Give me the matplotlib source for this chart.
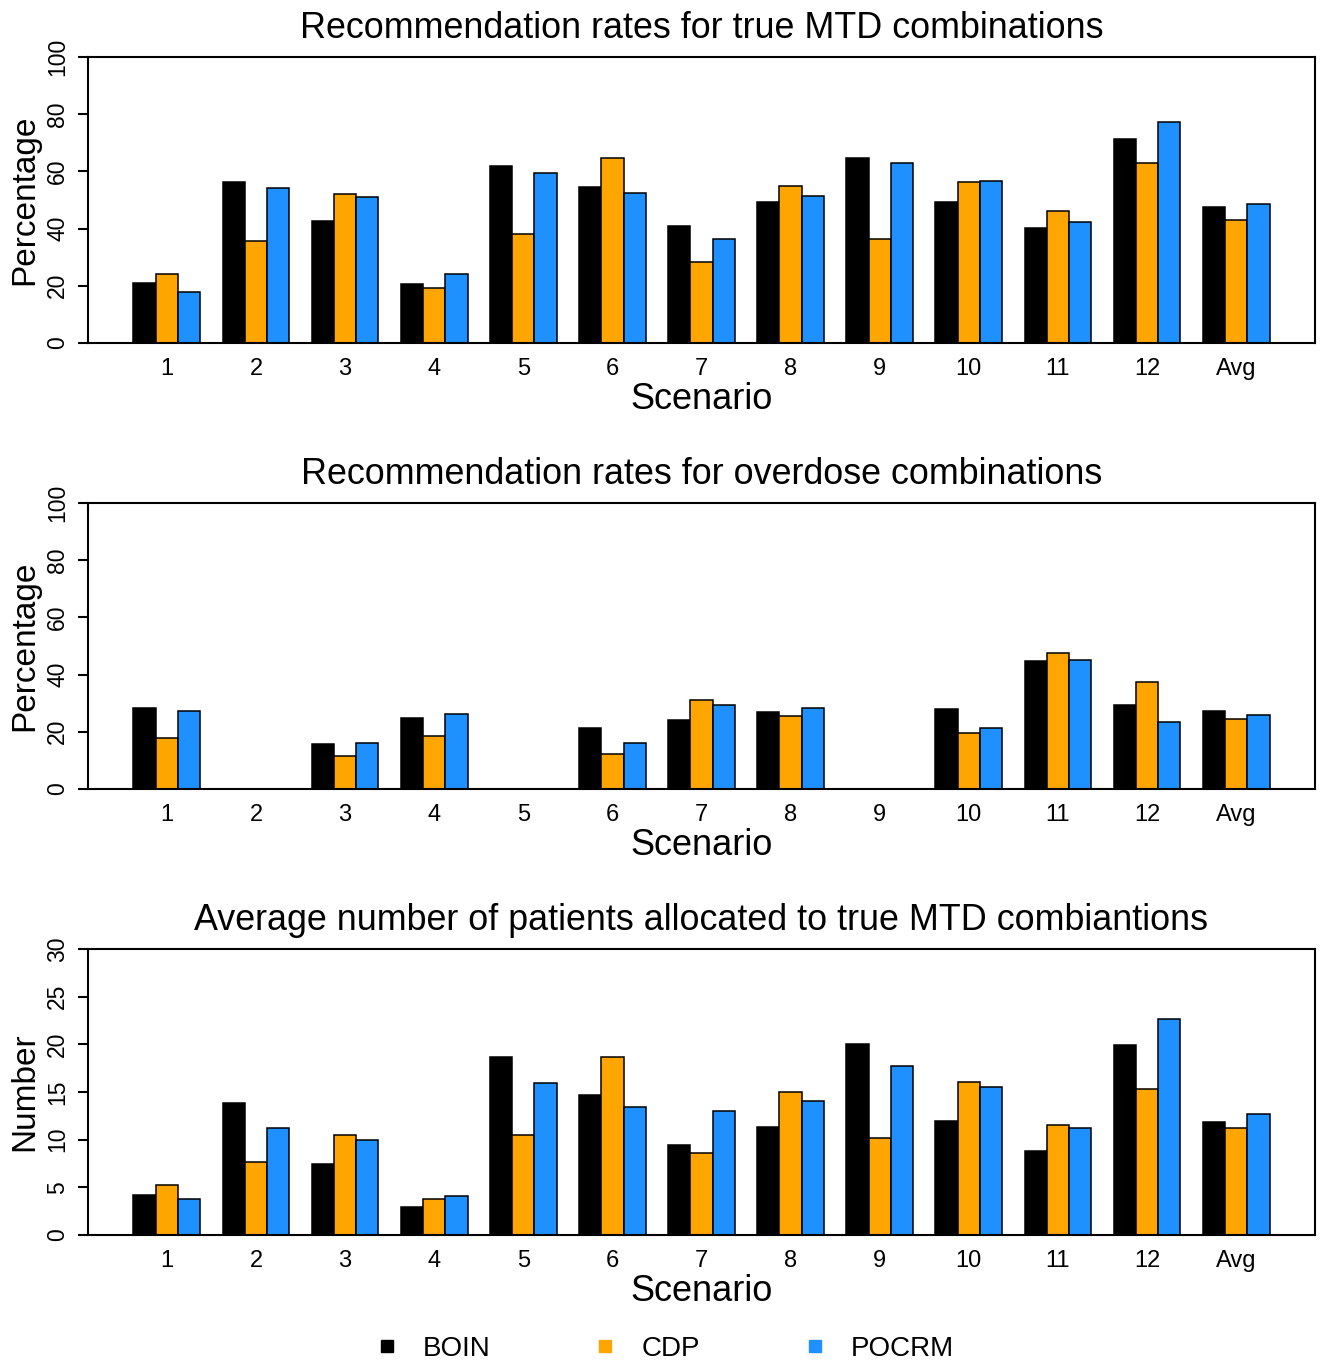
import matplotlib
matplotlib.use("Agg")
import matplotlib.pyplot as plt
from matplotlib.lines import Line2D

plt.rcParams['font.family'] = ['Liberation Sans', 'DejaVu Sans']

# Scenario labels
scenarios = ['1', '2', '3', '4', '5', '6', '7', '8', '9', '10', '11', '12', 'Avg']
methods = ['BOIN', 'CDP', 'POCRM']
colors = ['black', '#FFA500', '#1E90FF']

# Recommendation rates for true MTD combinations (%)
mtd_boin = [20.9, 56.4, 42.6, 20.5, 61.9, 54.4, 40.8, 49.3, 64.6, 49.3, 40.2, 71.2, 47.7]
mtd_cdp = [24.1, 35.6, 52.0, 19.1, 38.0, 64.8, 28.2, 55.0, 36.5, 56.3, 46.0, 63.1, 43.0]
mtd_pocrm = [17.7, 54.3, 51.2, 24.1, 59.3, 52.6, 36.2, 51.3, 63.1, 56.6, 42.4, 77.3, 48.5]

# Recommendation rates for overdose combinations (%)
od_boin = [28.4, 0, 15.6, 24.7, 0, 21.3, 24.1, 26.8, 0, 28.0, 44.6, 29.5, 27.2]
od_cdp = [17.8, 0, 11.5, 18.5, 0, 12.1, 31.0, 25.5, 0, 19.5, 47.6, 37.4, 24.5]
od_pocrm = [27.4, 0, 16.1, 26.3, 0, 16.0, 29.4, 28.2, 0, 21.2, 45.0, 23.3, 25.9]

# Average number of patients allocated to true MTD combinations
pat_boin = [4.2, 13.8, 7.4, 2.9, 18.7, 14.7, 9.4, 11.3, 20.0, 12.0, 8.8, 19.9, 11.9]
pat_cdp = [5.2, 7.7, 10.5, 3.8, 10.5, 18.7, 8.6, 15.0, 10.2, 16.1, 11.5, 15.3, 11.2]
pat_pocrm = [3.8, 11.2, 10.0, 4.1, 15.9, 13.4, 13.0, 14.1, 17.7, 15.5, 11.2, 22.7, 12.7]

panels = [
    ('Recommendation rates for true MTD combinations', 'Percentage',
     [mtd_boin, mtd_cdp, mtd_pocrm], 100, [0, 20, 40, 60, 80, 100]),
    ('Recommendation rates for overdose combinations', 'Percentage',
     [od_boin, od_cdp, od_pocrm], 100, [0, 20, 40, 60, 80, 100]),
    ('Average number of patients allocated to true MTD combiantions', 'Number',
     [pat_boin, pat_cdp, pat_pocrm], 30, [0, 5, 10, 15, 20, 25, 30]),
]

W, H = 1325, 1361
fig = plt.figure(figsize=(W / 100, H / 100), dpi=100)

left = 88 / W
width = (1315 - 88) / W
tops = [57, 503, 949]
ph = 286

n_groups = len(scenarios)
for (title, ylab, series, ymax, yticks), top in zip(panels, tops):
    ax = fig.add_axes([left, 1 - (top + ph) / H, width, ph / H])
    # R barplot layout: bar width 1, one bar of space between groups
    for k, (vals, col) in enumerate(zip(series, colors)):
        xs = [1 + 4 * g + k for g in range(n_groups)]
        ax.bar(xs, vals, width=1, align='edge', color=col,
               edgecolor='black', linewidth=1.1)
    centers = [2.5 + 4 * g for g in range(n_groups)]
    ax.set_xticks(centers)
    ax.set_xticklabels(scenarios, fontsize=17)
    ax.tick_params(axis='x', length=0, pad=10.5)
    ax.set_xlim(1 - 0.04 * 51, 52 + 0.04 * 51)
    ax.set_ylim(0, ymax)
    ax.set_yticks(yticks)
    ax.set_yticklabels([str(t) for t in yticks], fontsize=16.5, rotation=90,
                       va='center')
    ax.tick_params(axis='y', length=7.5, width=1.5, pad=6)
    for s in ax.spines.values():
        s.set_linewidth(1.5)
    ax.set_title(title, fontsize=25.8, pad=13.5)
    ax.set_xlabel('Scenario', fontsize=26, labelpad=2)
    ax.set_ylabel(ylab, fontsize=24, labelpad=4)

handles = [Line2D([], [], marker='s', linestyle='none', markersize=8,
                  markerfacecolor=c, markeredgecolor=c) for c in colors]
fig.legend(handles, methods, loc='center', bbox_to_anchor=(0.5007, 0.009),
           ncol=3, frameon=False, fontsize=20, handlelength=1.0,
           handletextpad=0.8, columnspacing=3.64)

fig.savefig('out.png', dpi=100)
